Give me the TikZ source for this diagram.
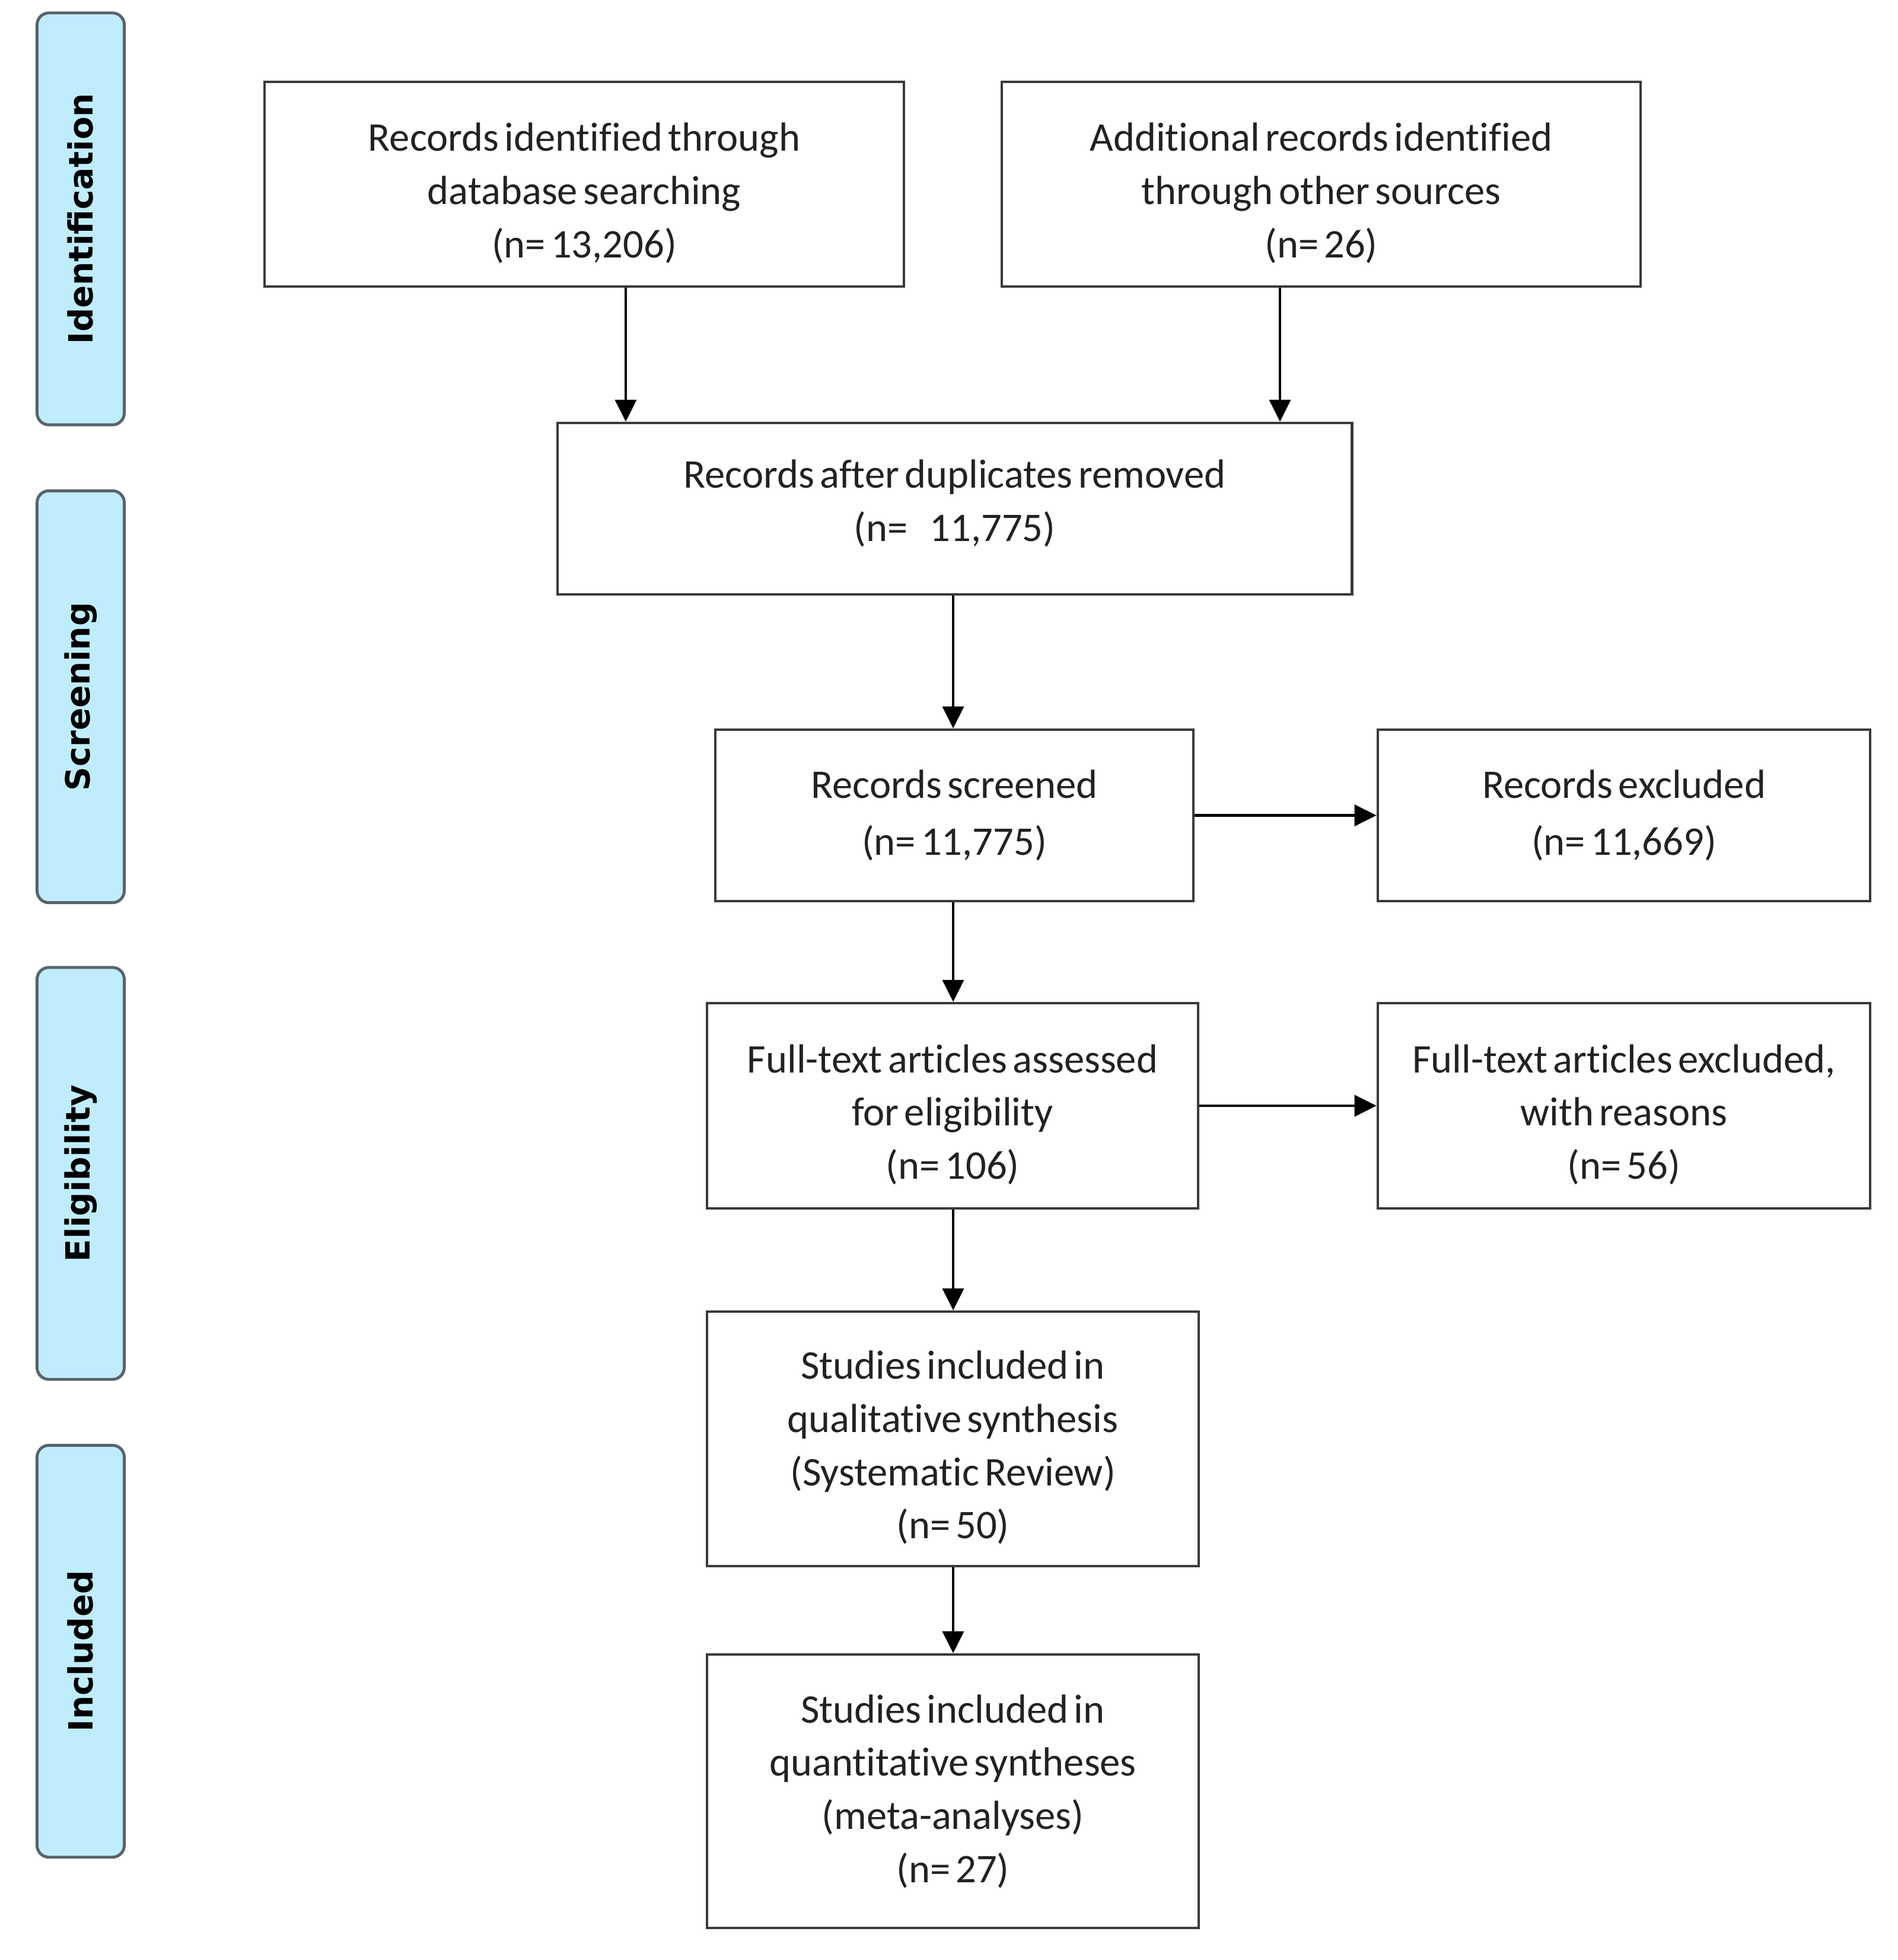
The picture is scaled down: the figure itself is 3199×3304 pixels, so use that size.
\documentclass[tikz,border=0pt]{standalone}
\usepackage{fontspec}
\setmainfont{Carlito}[WordSpace=0.6,Ligatures={NoCommon}]
\newfontfamily\phasefont{DejaVu Sans}
\usetikzlibrary{arrows.meta}
\definecolor{phasefill}{HTML}{BFEDFD}
\definecolor{phasedraw}{HTML}{59636B}
\definecolor{boxdraw}{HTML}{3A3A3A}
\definecolor{txt}{HTML}{222222}
\newcommand{\topstrut}{\rule{0pt}{22pt}}
\begin{document}
\begin{tikzpicture}[x=0.01cm,y=-0.01cm,
  box/.style={draw=boxdraw, line width=1.2pt, align=center, inner sep=0pt,
    font=\fontsize{19.5}{25.5}\selectfont, text=txt},
  phase/.style={draw=phasedraw, fill=phasefill, line width=1.4pt, rounded corners=0.2cm,
    minimum width=6.94cm, minimum height=1.47cm, rotate=90, inner sep=0pt,
    font=\phasefont\bfseries\fontsize{16}{19}\selectfont, text=black},
  arr/.style={draw=black, line width=1.15pt, -{Triangle[length=0.37cm,width=0.36cm]}}]
\useasboundingbox (0,0) rectangle (3199,3304);
\fill[white] (0,0) rectangle (3199,3304);

% phase labels
\node[phase] (pid) at (136,369) {Identification};
\node[phase] (psc) at (136,1174.5) {Screening};
\node[phase] (pel) at (136,1978) {Eligibility};
\node[phase] (pin) at (136,2783.5) {Included};

% boxes
\node[box, minimum width=10.78cm, minimum height=3.45cm] (b1) at (985,310.5)
  {\topstrut Records identified through\\database searching\\(n= 13,206)};
\node[box, minimum width=10.77cm, minimum height=3.45cm] (b2) at (2227.5,310.5)
  {\topstrut Additional records identified\\through other sources\\(n= 26)};
\node[box, minimum width=13.39cm, minimum height=2.89cm] (b3) at (1609.5,857.5)
  {Records after duplicates removed\\(n=\ \ \ \ 11,775)\rule[-8pt]{0pt}{1pt}};
\node[box, minimum width=8.06cm, minimum height=2.89cm] (b4) at (1609,1374.5)
  {Records screened\\[2pt](n= 11,775)};
\node[box, minimum width=8.30cm, minimum height=2.89cm] (b5) at (2738,1374.5)
  {Records excluded\\[2pt](n= 11,669)};
\node[box, minimum width=8.28cm, minimum height=3.46cm] (b6) at (1606,1864)
  {\topstrut Full-text articles assessed\\for eligibility\\(n= 106)};
\node[box, minimum width=8.30cm, minimum height=3.46cm] (b7) at (2738,1864)
  {\topstrut Full-text articles excluded,\\with reasons\\(n= 56)};
\node[box, minimum width=8.29cm, minimum height=4.29cm] (b8) at (1606.5,2425.5)
  {\topstrut Studies included in\\qualitative synthesis\\(Systematic Review)\\(n= 50)};
\node[box, minimum width=8.29cm, minimum height=4.61cm] (b9) at (1606.5,3019.5)
  {Studies included in\\quantitative syntheses\\(meta-analyses)\\(n= 27)};

% arrow columns
\coordinate (c1) at (1055,0);
\coordinate (c2) at (2158,0);
\coordinate (cm) at (1607,0);

\draw[arr] (b1.south -| c1) -- (b3.north -| c1);
\draw[arr] (b2.south -| c2) -- (b3.north -| c2);
\draw[arr] (b3.south -| cm) -- (b4.north -| cm);
\draw[arr] (b4.south -| cm) -- (b6.north -| cm);
\draw[arr] (b6.south -| cm) -- (b8.north -| cm);
\draw[arr] (b8.south -| cm) -- (b9.north -| cm);
\draw[arr] (b4.east) -- (b5.west);
\draw[arr] (b6.east) -- (b7.west);
\end{tikzpicture}
\end{document}
